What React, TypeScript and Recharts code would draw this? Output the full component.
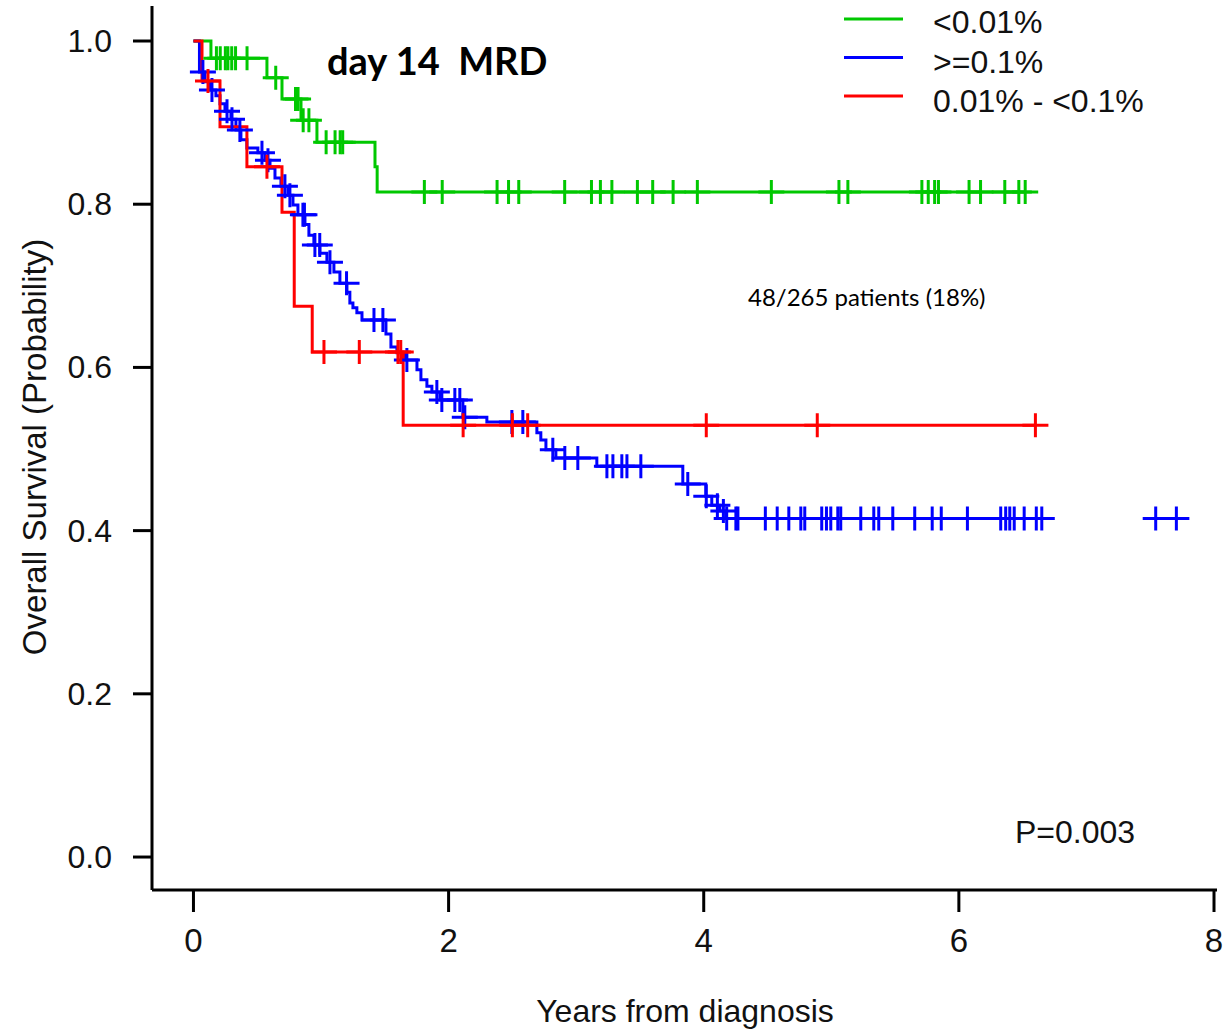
import React from 'react'
import { ComposedChart, Line, Scatter, XAxis, YAxis } from 'recharts'

const W = 1225
const H = 1031
const FONT = '"Liberation Sans", Arial, sans-serif'

const GREEN = '#00c800'
const BLUE = '#0000ff'
const RED = '#ff0000'

// <0.01% : death times (years) and survival after each death
const greenTimes = [0.137, 0.576, 0.694, 0.843, 0.968, 1.423, 1.44]
const greenSurv = [0.979, 0.955, 0.929, 0.903, 0.876, 0.846, 0.815]
const greenCensor = [
  0.18, 0.21, 0.25, 0.27, 0.3, 0.33, 0.42, 0.645, 0.8, 0.82, 0.86, 0.905, 1.04, 1.11, 1.15, 1.17,
  1.81, 1.95, 2.38, 2.47, 2.55, 2.91, 3.12, 3.19, 3.28, 3.48, 3.6, 3.76, 3.95, 4.53, 5.06, 5.13,
  5.71, 5.76, 5.81, 5.84, 6.08, 6.17, 6.36, 6.47, 6.52,
]
const greenEnd = 6.52

// >=0.1%
const blueTimes = [
  0.047, 0.09, 0.129, 0.176, 0.208, 0.247, 0.294, 0.333, 0.372, 0.419, 0.505, 0.56, 0.6, 0.639,
  0.686, 0.741, 0.78, 0.819, 0.874, 0.905, 0.944, 0.991, 1.046, 1.101, 1.148, 1.203, 1.226, 1.25,
  1.281, 1.321, 1.509, 1.548, 1.595, 1.657, 1.752, 1.783, 1.83, 1.869, 1.932, 2.112, 2.3, 2.692,
  2.723, 2.763, 2.841, 3.162, 3.836, 4.016, 4.063, 4.126, 4.173,
]
const blueSurv = [
  0.962, 0.95, 0.94, 0.933, 0.923, 0.914, 0.904, 0.891, 0.879, 0.869, 0.863, 0.854, 0.844, 0.832,
  0.822, 0.811, 0.799, 0.787, 0.775, 0.762, 0.75, 0.74, 0.729, 0.717, 0.703, 0.692, 0.679, 0.673,
  0.667, 0.658, 0.641, 0.625, 0.618, 0.609, 0.597, 0.585, 0.577, 0.57, 0.56, 0.539, 0.533, 0.52,
  0.511, 0.499, 0.489, 0.479, 0.457, 0.442, 0.431, 0.424, 0.415,
]
const blueCensor = [
  0.074, 0.145, 0.263, 0.302, 0.364, 0.537, 0.584, 0.717, 0.756, 0.858, 0.87, 0.952, 0.99, 1.07,
  1.2, 1.415, 1.485, 1.673, 1.908, 1.947, 2.049, 2.088, 2.127, 2.496, 2.582, 2.817, 2.911, 3.013,
  3.241, 3.288, 3.358, 3.398, 3.507, 3.875, 4.02, 4.107, 4.154, 4.18, 4.252, 4.268, 4.483, 4.576,
  4.667, 4.761, 4.792, 4.925, 4.962, 4.996, 5.051, 5.074, 5.231, 5.333, 5.372, 5.482, 5.654,
  5.791, 5.862, 6.067, 6.328, 6.367, 6.399, 6.434, 6.512, 6.607, 6.65, 7.543, 7.705,
]
const blueEnd = 6.65

// 0.01% - <0.1%
const redTimes = [0.067, 0.208, 0.419, 0.694, 0.79, 0.931, 1.644]
const redSurv = [0.951, 0.895, 0.846, 0.79, 0.675, 0.619, 0.529]
const redCensor = [0.114, 0.576, 1.023, 1.3, 1.603, 1.625, 2.114, 2.5, 2.62, 4.02, 4.89, 6.6]
const redEnd = 6.6

const xTicks = [0, 2, 4, 6, 8]
const yTicks = [0, 0.2, 0.4, 0.6, 0.8, 1.0]

const legendItems = [
  { label: '<0.01%', color: GREEN },
  { label: '>=0.1%', color: BLUE },
  { label: '0.01% - <0.1%', color: RED },
]

function survAt(times: number[], surv: number[], t: number) {
  let s = 1
  times.forEach((e, i) => {
    if (e <= t) s = surv[i]
  })
  return s
}

function stepData(times: number[], surv: number[], end: number) {
  return [
    { t: 0, s: 1 },
    ...times.map((t, i) => ({ t, s: surv[i] })),
    { t: end, s: survAt(times, surv, end) },
  ]
}

function censorData(times: number[], surv: number[], censor: number[]) {
  return censor.map((t) => ({ t, s: survAt(times, surv, t) }))
}

const plus = (color: string) => (props: any) => {
  const { cx, cy } = props
  return (
    <path
      d={`M${cx - 13},${cy}H${cx + 13}M${cx},${cy - 12}V${cy + 12}`}
      stroke={color}
      strokeWidth={3}
      fill="none"
    />
  )
}

const YTick = (props: any) => {
  const { x, y, payload } = props
  return (
    <text x={x} y={y} dy={11} textAnchor="end" fontSize={32} fontFamily={FONT} fill="#111">
      {payload.value.toFixed(1)}
    </text>
  )
}

const XTick = (props: any) => {
  const { x, y, payload } = props
  return (
    <text x={x} y={y} dy={40} textAnchor="middle" fontSize={33} fontFamily={FONT} fill="#111">
      {payload.value}
    </text>
  )
}

const series = [
  { name: 'green', color: GREEN, line: stepData(greenTimes, greenSurv, greenEnd), marks: censorData(greenTimes, greenSurv, greenCensor) },
  { name: 'blue', color: BLUE, line: stepData(blueTimes, blueSurv, blueEnd), marks: censorData(blueTimes, blueSurv, blueCensor) },
  { name: 'red', color: RED, line: stepData(redTimes, redSurv, redEnd), marks: censorData(redTimes, redSurv, redCensor) },
]

export default function App() {
  return (
    <div style={{ position: 'absolute', left: 0, top: 0, width: W, height: H, background: '#fff' }}>
      <ComposedChart width={W} height={H} margin={{ top: 6, right: 8, bottom: 0, left: 0 }}>
        <XAxis
          type="number"
          dataKey="t"
          domain={[-0.325, 8.0235]}
          ticks={xTicks}
          allowDataOverflow
          height={141}
          tickSize={22}
          tickMargin={0}
          tick={<XTick />}
          axisLine={{ stroke: '#000', strokeWidth: 3 }}
          tickLine={{ stroke: '#000', strokeWidth: 3 }}
        />
        <YAxis
          type="number"
          dataKey="s"
          domain={[-0.0404, 1.0429]}
          ticks={yTicks}
          allowDataOverflow
          width={152}
          tickSize={19}
          tickMargin={21}
          tick={<YTick />}
          axisLine={{ stroke: '#000', strokeWidth: 3 }}
          tickLine={{ stroke: '#000', strokeWidth: 3 }}
        />
        {series.map((g) => (
          <Line
            key={g.name + '-line'}
            data={g.line}
            dataKey="s"
            type="stepAfter"
            stroke={g.color}
            strokeWidth={3}
            dot={false}
            activeDot={false}
            isAnimationActive={false}
          />
        ))}
        {series.map((g) => (
          <Scatter
            key={g.name + '-marks'}
            data={g.marks}
            dataKey="s"
            shape={plus(g.color)}
            isAnimationActive={false}
          />
        ))}
      </ComposedChart>
      <svg
        width={W}
        height={H}
        style={{ position: 'absolute', left: 0, top: 0, pointerEvents: 'none' }}
      >
        <text
          x={327}
          y={75}
          fontSize={38}
          fontWeight="bold"
          fontFamily="Lato, sans-serif"
          fill="#000"
          style={{ whiteSpace: 'pre' }}
        >
          {'day 14  MRD'}
        </text>
        <text x={748} y={306} fontSize={24} fontFamily="Lato, sans-serif" fill="#000">
          48/265 patients (18%)
        </text>
        <text x={1015} y={843} fontSize={32} fontFamily={FONT} fill="#111">
          P=0.003
        </text>
        {legendItems.map((d, i) => (
          <g key={d.label}>
            <line x1={844} x2={903} y1={19 + i * 38.5} y2={19 + i * 38.5} stroke={d.color} strokeWidth={3} />
            <text x={933} y={33 + i * 39.5} fontSize={32} fontFamily={FONT} fill="#111">
              {d.label}
            </text>
          </g>
        ))}
        <text
          x={46}
          y={447}
          transform="rotate(-90 46 447)"
          textAnchor="middle"
          fontSize={33}
          fontFamily={FONT}
          fill="#111"
        >
          Overall Survival (Probability)
        </text>
        <text x={685} y={1022} textAnchor="middle" fontSize={32} fontFamily={FONT} fill="#111">
          Years from diagnosis
        </text>
      </svg>
    </div>
  )
}
